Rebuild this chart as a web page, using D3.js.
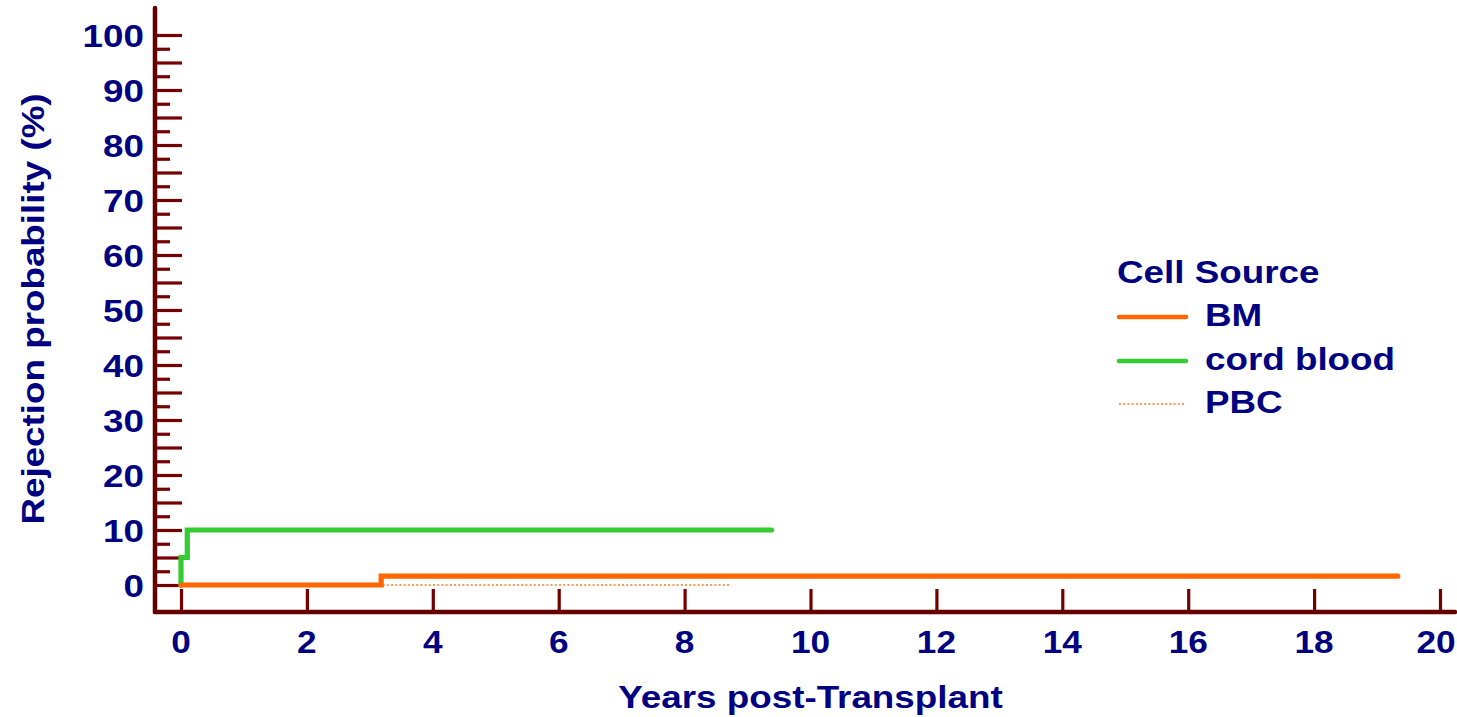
<!DOCTYPE html>
<html>
<head>
<meta charset="utf-8">
<script src="https://cdn.jsdelivr.net/npm/d3@7"></script>
<style>
  html, body { margin: 0; padding: 0; background: #fff; }
  svg { display: block; }
  text { font-family: "Liberation Sans", Arial, sans-serif; font-weight: bold; fill: #000080; }
</style>
</head>
<body>
<svg id="chart" width="1457" height="717"></svg>
<script>
// Cumulative rejection probability (%) by cell source, as step curves
const seriesNames = ["BM", "cord blood", "PBC"];
const bmYears = [0, 3.18, 19.33];
const bmValues = [0, 1.6, 1.6];
const cordYears = [0, 0.1, 9.38];
const cordValues = [5, 10, 10];
const pbcYears = [0, 8.72];
const pbcValues = [0, 0];

const xTickValues = [0, 2, 4, 6, 8, 10, 12, 14, 16, 18, 20];
const yLabelValues = [0, 10, 20, 30, 40, 50, 60, 70, 80, 90, 100];
const yMajorTicks = d3.range(0, 100.01, 5);
const yMinorTicks = d3.range(2.5, 100, 5);

const xTitle = "Years post-Transplant";
const yTitle = "Rejection probability (%)";
const legendTitle = "Cell Source";

const svg = d3.select("#chart");
const x = d3.scaleLinear().domain([0, 20]).range([181, 1440]);
const y = d3.scaleLinear().domain([0, 100]).range([585, 35]);

const axisColor = "#650000";
const tickColor = "#760000";
const stretch = 1.15;
const fontSize = 32;

const axisX = 155, axisY = 612;

// Y axis ticks (inward, to the right)
const yMajor = svg.append("g").attr("transform", `translate(${axisX},0)`)
  .call(d3.axisRight(y).tickValues(yMajorTicks).tickSize(27).tickFormat(""));
const yMinor = svg.append("g").attr("transform", `translate(${axisX},0)`)
  .call(d3.axisRight(y).tickValues(yMinorTicks).tickSize(15).tickFormat(""));
[yMajor, yMinor].forEach(g => {
  g.select(".domain").remove();
  g.selectAll("line").attr("stroke", tickColor).attr("stroke-width", 3.2);
});

// X axis ticks (inward, upward)
const xAx = svg.append("g").attr("transform", `translate(0,${axisY})`)
  .call(d3.axisTop(x).tickValues(xTickValues).tickSize(23).tickFormat(""));
xAx.select(".domain").remove();
xAx.selectAll("line").attr("stroke", tickColor).attr("stroke-width", 3.2);

// Axis lines
svg.append("line").attr("x1", axisX).attr("x2", axisX).attr("y1", 8).attr("y2", axisY)
  .attr("stroke", axisColor).attr("stroke-width", 4.5).attr("stroke-linecap", "round");
svg.append("line").attr("x1", axisX).attr("x2", 1455).attr("y1", axisY).attr("y2", axisY)
  .attr("stroke", axisColor).attr("stroke-width", 4.5).attr("stroke-linecap", "round");

function label(g, px, py, str, anchor, extra, sx) {
  return g.append("text")
    .attr("transform", `translate(${px},${py})${extra || ""} scale(${sx || stretch},1)`)
    .attr("text-anchor", anchor)
    .attr("font-size", fontSize)
    .text(str);
}

// Tick labels
const labels = svg.append("g");
yLabelValues.forEach(v => label(labels, 144, y(v) + 11.5, String(v), "end"));
xTickValues.forEach(v => {
  // keep the last label inside the right edge
  const px = Math.min(x(v), 1436);
  label(labels, px, 653, String(v), "middle", "", 1.1);
});

// Axis titles
label(svg, (x(0) + x(20)) / 2, 708, xTitle, "middle");
label(svg, 44, 309, yTitle, "middle", " rotate(-90)");

// Curves
const stepLine = d3.line().x(d => x(d[0])).y(d => y(d[1])).curve(d3.curveStepAfter);
const zip = (xs, ys) => xs.map((v, i) => [v, ys[i]]);

const curves = [
  { name: seriesNames[2], data: zip(pbcYears, pbcValues), color: "#ff7a1a", width: 1.6, dash: "2,2.2", cap: "butt" },
  { name: seriesNames[1], data: [[0, 0]].concat(zip(cordYears, cordValues)), color: "#33cc33", width: 5.2, dash: null, cap: "round" },
  { name: seriesNames[0], data: zip(bmYears, bmValues), color: "#ff6600", width: 5.2, dash: null, cap: "round" }
];
curves.forEach(c => {
  svg.append("path")
    .attr("d", stepLine(c.data))
    .attr("fill", "none")
    .attr("stroke", c.color)
    .attr("stroke-width", c.width)
    .attr("stroke-dasharray", c.dash)
    .attr("stroke-linecap", c.cap)
    .attr("stroke-linejoin", "miter");
});

// Legend
const legend = svg.append("g");
label(legend, 1117, 283, legendTitle, "start");
const legendRows = [
  { name: seriesNames[0], color: "#ff6600", width: 4.5, dash: null, y: 317 },
  { name: seriesNames[1], color: "#33cc33", width: 4.5, dash: null, y: 361 },
  { name: seriesNames[2], color: "#ff7a1a", width: 1.6, dash: "2,2.2", y: 404 }
];
legendRows.forEach(r => {
  legend.append("line")
    .attr("x1", 1119).attr("x2", 1186).attr("y1", r.y).attr("y2", r.y)
    .attr("stroke", r.color).attr("stroke-width", r.width)
    .attr("stroke-dasharray", r.dash)
    .attr("stroke-linecap", r.dash ? "butt" : "round");
  label(legend, 1205, r.y + 9, r.name, "start");
});
</script>
</body>
</html>
